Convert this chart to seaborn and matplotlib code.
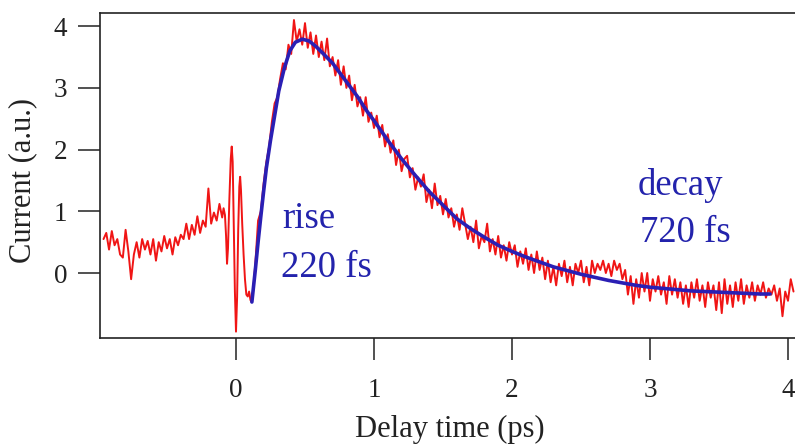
import numpy as np
import pandas as pd
import matplotlib
matplotlib.use("Agg")
import matplotlib.pyplot as plt
import seaborn as sns

# ---------------- data ----------------
# pre-zero part of the measured trace, sampled every 0.02 ps from -0.96 ps
pre_start, pre_step = -0.96, 0.02
pre_current = [0.55, 0.65, 0.38, 0.68, 0.45, 0.55, 0.30, 0.25, 0.70, 0.35,
               -0.10, 0.30, 0.50, 0.25, 0.55, 0.38, 0.52, 0.30, 0.55, 0.20,
               0.50, 0.35, 0.60, 0.40, 0.55, 0.30, 0.58, 0.45, 0.62, 0.55,
               0.80, 0.55, 0.78, 0.62, 0.92, 0.65, 0.85, 0.75, 1.37, 0.80,
               0.98, 0.85, 1.12, 0.90]

# oscillation around time zero
osc_delay = [-0.09, -0.08, -0.072, -0.065, -0.058, -0.048, -0.038, -0.031,
             -0.024, -0.016, -0.008, 0.0, 0.008, 0.016, 0.024, 0.030, 0.036,
             0.045, 0.055, 0.065, 0.075, 0.085, 0.095, 0.105, 0.112]
osc_current = [1.05, 0.94, 0.60, 0.15, 0.40, 1.20, 1.85, 2.05,
               1.80, 0.80, -0.30, -0.95, -0.40, 0.70, 1.40, 1.56, 1.35,
               0.80, 0.30, -0.10, -0.35, -0.38, -0.30, -0.44, -0.46]

# after time zero, sampled every 0.02 ps from 0.12 ps
post_start, post_step = 0.12, 0.02
post_current = [
    -0.40, 0.15, 0.85, 1.00, 1.45, 1.80, 2.05, 2.45, 2.75, 2.85,
    3.15, 3.40, 3.30, 3.70, 3.55, 4.10, 3.75, 3.95, 3.70, 4.05,
    3.65, 3.90, 3.55, 3.85, 3.50, 3.75, 3.45, 3.80, 3.35, 3.50,
    3.20, 3.45, 3.05, 3.35, 3.00, 3.20, 2.80, 3.05, 2.70, 2.85,
    2.55, 2.85, 2.45, 2.60, 2.35, 2.55, 2.20, 2.40, 2.05, 2.25,
    1.95, 2.15, 1.75, 2.00, 1.65, 1.85, 1.90, 1.55, 1.70, 1.35,
    1.55, 1.40, 1.60, 1.15, 1.35, 1.05, 1.45, 1.10, 1.25, 0.95,
    1.20, 0.90, 1.05, 0.75, 0.95, 0.70, 1.05, 0.80, 0.55, 0.75,
    0.50, 0.85, 0.40, 0.60, 0.50, 0.80, 0.35, 0.55, 0.30, 0.60,
    0.25, 0.45, 0.20, 0.50, 0.30, 0.45, 0.10, 0.35, 0.15, 0.40,
    0.05, 0.30, 0.00, 0.35, 0.05, 0.25, -0.10, 0.20, -0.15, 0.10,
    -0.20, 0.15, -0.05, 0.20, -0.15, 0.10, -0.20, 0.15, 0.00, 0.20,
    -0.15, 0.10, -0.20, 0.20, 0.00, 0.15, 0.05, 0.20, 0.00, 0.15,
    -0.05, 0.20, 0.05, 0.15, -0.10, 0.05, -0.35, -0.05, -0.50, -0.10,
    -0.40, 0.00, -0.30, 0.00, -0.45, -0.10, -0.30, -0.05, -0.35, -0.15,
    -0.50, -0.05, -0.35, -0.10, -0.40, -0.15, -0.50, -0.20, -0.55, -0.15,
    -0.40, -0.10, -0.45, -0.20, -0.55, -0.15, -0.40, -0.20, -0.60, -0.15,
    -0.65, -0.10, -0.50, -0.20, -0.55, -0.15, -0.45, -0.10, -0.50, -0.20,
    -0.40, -0.15, -0.45, -0.20, -0.35, -0.15, -0.40, -0.25, -0.35, -0.20,
    -0.45, -0.25, -0.70, -0.30, -0.45, -0.10, -0.30]

# fitted curve (rise 220 fs, decay 720 fs)
fit_delay = [0.115, 0.14, 0.16, 0.18, 0.20, 0.22, 0.25, 0.28, 0.31, 0.35,
             0.39, 0.43, 0.48, 0.53, 0.58, 0.63, 0.70, 0.75, 0.80, 0.88,
             0.95, 1.00, 1.10, 1.20, 1.30, 1.40, 1.50, 1.60, 1.70, 1.80,
             1.90, 2.00, 2.10, 2.20, 2.30, 2.40, 2.50, 2.60, 2.70, 2.80,
             2.90, 3.00, 3.10, 3.20, 3.30, 3.40, 3.50, 3.60, 3.70, 3.80, 3.87]
fit_current = [-0.47, 0.05, 0.50, 0.92, 1.32, 1.70, 2.15, 2.55, 2.95, 3.32,
               3.60, 3.74, 3.79, 3.76, 3.67, 3.56, 3.40, 3.25, 3.10, 2.86,
               2.62, 2.47, 2.15, 1.85, 1.58, 1.32, 1.10, 0.88, 0.72, 0.58,
               0.45, 0.35, 0.26, 0.18, 0.10, 0.04, -0.02, -0.07, -0.12, -0.16,
               -0.20, -0.23, -0.25, -0.27, -0.29, -0.30, -0.31, -0.32, -0.33, -0.34, -0.34]

x_ticks = [0, 1, 2, 3, 4]
y_ticks = [0, 1, 2, 3, 4]
rise_label = ["rise", "220 fs"]
decay_label = ["decay", "720 fs"]

# ---------------- assemble ----------------
pre_delay = np.round(pre_start + pre_step * np.arange(len(pre_current)), 3)
post_delay = np.round(post_start + post_step * np.arange(len(post_current)), 3)
meas = pd.DataFrame({
    "delay": np.concatenate([pre_delay, osc_delay, post_delay]),
    "current": np.concatenate([pre_current, osc_current, post_current]),
})
fit = pd.DataFrame({"delay": fit_delay, "current": fit_current})

sns.set_style("ticks")
plt.rcParams["font.family"] = ["Liberation Serif", "DejaVu Serif"]

W, H = 795, 447
fig = plt.figure(figsize=(W / 100, H / 100), dpi=100)
ax = fig.add_axes([100 / W, (H - 338) / H, 700 / W, 325 / H])

red = "#f01515"
blue = "#2a1fb4"
sns.lineplot(data=meas, x="delay", y="current", ax=ax, color=red,
             linewidth=1.4, estimator=None, sort=False)
sns.lineplot(data=fit, x="delay", y="current", ax=ax, color=blue,
             linewidth=2.6, estimator=None, sort=False)

ax.set_xlim(-0.9855, 4.087)
ax.set_ylim(-1.053, 4.214)
ax.set_xticks(x_ticks)
ax.set_yticks(y_ticks)
ax.tick_params(axis="both", direction="out", length=15.5, width=1.1,
               labelsize=19.5, colors="#222222")
ax.tick_params(axis="x", pad=13)
ax.tick_params(axis="y", pad=8)
for s in ax.spines.values():
    s.set_linewidth(1.2)
    s.set_color("#222222")

ax.set_xlabel("Delay time (ps)", fontsize=22, color="#222222")
ax.set_ylabel("Current (a.u.)", fontsize=22, color="#222222")
ax.xaxis.set_label_coords(0.5, -0.236)
ax.yaxis.set_label_coords(-0.089, 0.485)

tcol = "#2323ac"
ax.text(0.333, 0.73, rise_label[0], color=tcol, fontsize=26.5, va="baseline", ha="left")
ax.text(0.326, -0.065, rise_label[1], color=tcol, fontsize=26.5, va="baseline", ha="left")
ax.text(2.913, 1.264, decay_label[0], color=tcol, fontsize=26.5, va="baseline", ha="left")
ax.text(2.927, 0.507, decay_label[1], color=tcol, fontsize=26.5, va="baseline", ha="left")

fig.savefig("out.png", dpi=100)
